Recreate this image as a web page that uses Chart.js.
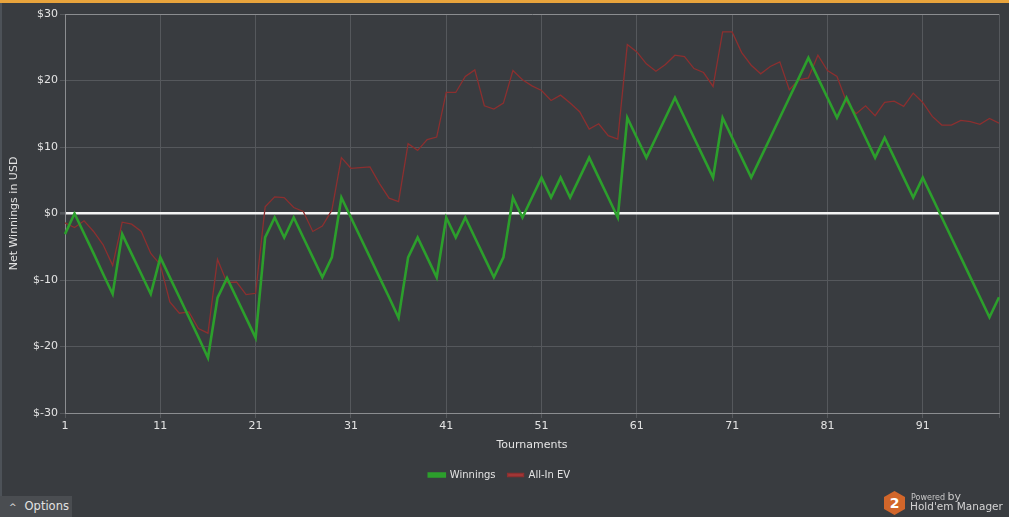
<!DOCTYPE html>
<html>
<head>
<meta charset="utf-8">
<script src="https://cdn.jsdelivr.net/npm/chart.js@4"></script>
<style>
  html, body { margin: 0; padding: 0; background: #393c40; overflow: hidden; }
  #wrap { position: relative; width: 1009px; height: 517px; }
  #topbar { position: absolute; left: 0; top: 0; width: 1009px; height: 3px; background: #e9a43c; }
  #edge { position: absolute; left: 0; top: 3px; width: 2px; height: 514px; background: #4d5258; }
  #options { position: absolute; left: 0; top: 496px; width: 72px; height: 21px; background: #4a4d51;
    color: #e2e2e2; font: 11.5px "DejaVu Sans", sans-serif; line-height: 21px; }
  #options span.ch { display: inline-block; margin: 0 8px 0 9px; font-size: 9px; }
  #logo { position: absolute; left: 884px; top: 490px; width: 125px; height: 27px; }
  #hex { position: absolute; left: 0; top: 1px; width: 21px; height: 24px; background: #d2662a;
    clip-path: polygon(50% 0, 100% 25%, 100% 75%, 50% 100%, 0 75%, 0 25%);
    color: #fff; font: bold 14px "DejaVu Sans", sans-serif; text-align: center; line-height: 24px; }
  #pow { position: absolute; left: 27px; top: 0; color: #c8c8c8; font: 8px "DejaVu Sans", sans-serif; }
  #pow b { font-weight: normal; font-size: 11px; }
  #hm { position: absolute; left: 26px; top: 10px; color: #d4d4d4; font: 10.5px "DejaVu Sans", sans-serif; white-space: nowrap; }
</style>
</head>
<body>
<div id="wrap">
  <canvas id="netChart" width="1009" height="517"></canvas>
  <div id="topbar"></div>
  <div id="edge"></div>
  <div id="options"><span class="ch">&#94;</span>Options</div>
  <div id="logo">
    <div id="hex">2</div>
    <div id="pow">Powered <b>by</b></div>
    <div id="hm">Hold'em Manager</div>
  </div>
</div>
<script>
// Tournaments 1..99
const tournaments = Array.from({ length: 99 }, (_, i) => String(i + 1));

// Net winnings (USD)
const winnings = [
    -3.1, 0, -3.0, -6.0, -9.1, -12.1, -3.1, -6.1, -9.1, -12.1,
    -6.6, -9.6, -12.6, -15.6, -18.6, -21.7, -12.7, -9.7, -12.7, -15.7,
    -18.7, -3.6, -0.6, -3.6, -0.6, -3.6, -6.6, -9.6, -6.6, 2.4,
    -0.6, -3.6, -6.6, -9.6, -12.6, -15.7, -6.6, -3.6, -6.6, -9.6,
    -0.6, -3.6, -0.6, -3.6, -6.6, -9.6, -6.6, 2.4, -0.6, 2.4,
    5.4, 2.4, 5.4, 2.4, 5.4, 8.4, 5.4, 2.4, -0.6, 14.4,
    11.4, 8.4, 11.4, 14.4, 17.4, 14.4, 11.4, 8.4, 5.4, 14.4,
    11.4, 8.4, 5.4, 8.4, 11.4, 14.4, 17.4, 20.4, 23.4, 20.4,
    17.4, 14.4, 17.4, 14.4, 11.4, 8.4, 11.4, 8.4, 5.4, 2.4,
    5.4, 2.4, -0.6, -3.6, -6.6, -9.6, -12.6, -15.6, -12.6
];

// All-In EV (USD)
const allInEV = [
    -1.4, -2.1, -1.1, -2.7, -4.7, -7.8, -1.3, -1.6, -2.7, -6.0,
    -7.7, -13.3, -15.0, -14.8, -17.3, -18.0, -6.9, -10.4, -10.3, -12.2,
    -12.0, 1.0, 2.5, 2.4, 0.9, 0.3, -2.7, -1.9, 0.5, 8.4,
    6.8, 6.9, 7.0, 4.5, 2.3, 1.8, 10.5, 9.5, 11.1, 11.5,
    18.2, 18.2, 20.6, 21.6, 16.2, 15.7, 16.6, 21.5, 20.1, 19.2,
    18.5, 17.0, 17.8, 16.6, 15.3, 12.7, 13.5, 11.7, 11.2, 25.4,
    24.3, 22.5, 21.4, 22.4, 23.8, 23.6, 21.8, 21.2, 19.1, 27.3,
    27.3, 24.2, 22.3, 21.0, 22.1, 22.8, 18.6, 20.1, 20.4, 23.8,
    21.5, 20.6, 16.8, 15.0, 16.2, 14.7, 16.7, 16.9, 16.1, 18.1,
    16.7, 14.6, 13.3, 13.3, 14.0, 13.8, 13.4, 14.3, 13.6
];

const yTicks = [-30, -20, -10, 0, 10, 20, 30];

const textColor = '#e4e4e4';
const gridColor = '#55585c';
const frameColor = '#8b8d90';
const baseFont = { family: '"DejaVu Sans", sans-serif', size: 11 };

const netChart = new Chart(document.getElementById('netChart'), {
    type: 'line',
    data: {
        labels: tournaments,
        datasets: [{
            label: 'Winnings',
            data: winnings,
            borderColor: '#2c9f2c',
            backgroundColor: '#2c9f2c',
            borderWidth: 2.6,
            pointRadius: 0,
            tension: 0
        }, {
            label: 'All-In EV',
            data: allInEV,
            borderColor: '#8c2f2f',
            backgroundColor: '#a83a3a',
            borderWidth: 1.3,
            pointRadius: 0,
            tension: 0
        }]
    },
    options: {
        responsive: false,
        animation: false,
        devicePixelRatio: 1,
        layout: { padding: { left: 0, right: 10, top: 14, bottom: 27 } },
        plugins: {
            tooltip: { enabled: false },
            legend: {
                position: 'bottom',
                labels: {
                    color: textColor,
                    font: { family: baseFont.family, size: 10 },
                    boxWidth: 16,
                    boxHeight: 3,
                    padding: 12
                }
            }
        },
        scales: {
            x: {
                offset: false,
                afterFit: scale => { scale.height = 45; },
                grid: {
                    color: ctx => (ctx.index % 10 === 0 || ctx.index === tournaments.length - 1) ? gridColor : 'transparent',
                    tickLength: 5
                },
                border: { color: frameColor },
                ticks: {
                    color: textColor,
                    font: baseFont,
                    autoSkip: false,
                    maxRotation: 0,
                    padding: 2,
                    callback: function (val, i) { return i % 10 === 0 ? this.getLabelForValue(val) : ''; }
                },
                title: {
                    display: true,
                    text: 'Tournaments',
                    color: textColor,
                    font: baseFont,
                    padding: { top: 0, bottom: 6 }
                }
            },
            y: {
                min: yTicks[0],
                max: yTicks[yTicks.length - 1],
                afterFit: scale => { scale.width = 65; },
                afterBuildTicks: scale => { scale.ticks = yTicks.map(v => ({ value: v })); },
                grid: {
                    color: ctx => ctx.tick.value === 0 ? '#f4f4f4' : (Math.abs(ctx.tick.value) === 30 ? frameColor : gridColor),
                    lineWidth: ctx => ctx.tick.value === 0 ? 2.6 : 1,
                    tickColor: gridColor,
                    tickLength: 5
                },
                border: { color: frameColor },
                ticks: {
                    color: textColor,
                    font: baseFont,
                    padding: 2,
                    callback: v => '$' + v
                },
                title: {
                    display: true,
                    text: 'Net Winnings in USD',
                    color: textColor,
                    font: baseFont,
                    padding: { top: 8, bottom: 0 }
                }
            }
        }
    }
});
</script>
</body>
</html>
